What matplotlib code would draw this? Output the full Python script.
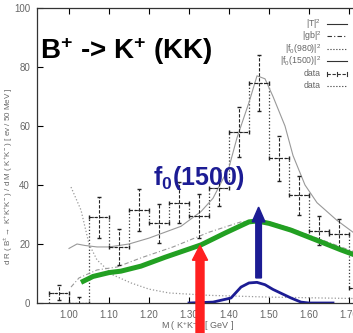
import numpy as np
from matplotlib import pyplot as plt
from matplotlib.lines import Line2D
from matplotlib.patches import FancyArrow

plt.rcParams['font.family'] = ['Liberation Sans', 'DejaVu Sans']
plt.rcParams['mathtext.fontset'] = 'custom'
plt.rcParams['mathtext.rm'] = 'Liberation Sans'
plt.rcParams['mathtext.bf'] = 'Liberation Sans:bold'
plt.rcParams['mathtext.it'] = 'Liberation Sans:italic'

# data histogram (50 MeV bins)
bin_edges = [0.95, 1.00, 1.05, 1.10, 1.15, 1.20, 1.25, 1.30, 1.35,
             1.40, 1.45, 1.50, 1.55, 1.60, 1.65, 1.70, 1.75]
data_x = [0.975, 1.025, 1.075, 1.125, 1.175, 1.225, 1.275, 1.325,
          1.375, 1.425, 1.475, 1.525, 1.575, 1.625, 1.675, 1.725]
data_y = [3.5, 0, 29, 19, 31.5, 27, 34, 29.5, 39, 58, 74.5, 49, 36.5, 24.5, 23.5, 5]
data_err = [2.5, 2, 7, 6, 7, 6.5, 7, 7.5, 6, 8.5, 9.5, 7.5, 6.5, 5, 5, 3]

# |T|^2
t_x = [1.00, 1.02, 1.04, 1.07, 1.10, 1.15, 1.20, 1.25, 1.28, 1.33, 1.36, 1.40,
       1.42, 1.45, 1.47, 1.49, 1.51, 1.54, 1.56, 1.59, 1.62, 1.67, 1.72]
t_y = [18.5, 20, 19.5, 19, 19, 20, 22, 24.5, 26, 31, 35.5, 46,
       56, 68, 77, 76, 70, 60, 50, 40, 34, 28, 23]

# |gb|^2
gb_x = [1.005, 1.025, 1.07, 1.12, 1.18, 1.26, 1.35, 1.43, 1.46, 1.50, 1.55, 1.63, 1.72]
gb_y = [5.4, 8.5, 11.2, 12.2, 15.3, 19, 24, 27.5, 28, 27.5, 25.5, 21.5, 17]

# |f0(980)|^2
f980_x = [1.005, 1.03, 1.05, 1.07, 1.11, 1.155, 1.20, 1.25, 1.35, 1.50, 1.72]
f980_y = [39.3, 31.5, 20, 14.6, 9.5, 6.8, 4.7, 3.4, 2.6, 2.0, 1.5]

# |f0(1500)|^2
f1500_x = [1.30, 1.36, 1.405, 1.43, 1.45, 1.47, 1.49, 1.51, 1.555, 1.58, 1.60, 1.66]
f1500_y = [0, 0.3, 1.7, 5.4, 6.8, 7.0, 6.2, 4.6, 1.7, 0.3, 0, 0]

# green highlight
green_x = [1.03, 1.06, 1.10, 1.13, 1.18, 1.24, 1.30, 1.33, 1.39, 1.45, 1.47,
           1.50, 1.555, 1.63, 1.68, 1.72]
green_y = [7, 9, 10.3, 10.8, 12.5, 15.5, 18.3, 19.7, 23.7, 27.5, 27.8,
           27, 24.7, 20.7, 18, 16]

xticks = [1.00, 1.10, 1.20, 1.30, 1.40, 1.50, 1.60, 1.70]
yticks = [0, 20, 40, 60, 80, 100]

legend_labels = [r'|T|$^2$', r'|gb|$^2$', r'|f$_0$(980)|$^2$', r'|f$_0$(1500)|$^2$', 'data', 'data']
legend_styles = ['-', (0, (4, 2, 1, 2)), ':', '-', (0, (3, 1.5)), ':']

W, H = 353, 333
fig = plt.figure(figsize=(W / 100, H / 100), dpi=100)
ax = fig.add_axes([37 / W, 30 / H, 332 / W, 295 / H])
gray = '#666666'

ax.plot(t_x, t_y, color='#999999', lw=0.8)
ax.plot(gb_x, gb_y, color='#999999', lw=0.8, ls=(0, (4, 2, 1, 2)))
ax.plot(f980_x, f980_y, color='#999999', lw=0.9, ls=':')
ax.plot(f1500_x, f1500_y, color='#999999', lw=0.8)
ax.stairs(data_y, bin_edges, baseline=0, color='#333333', lw=0.9, ls=':')
eb = ax.errorbar(data_x, data_y, yerr=data_err, xerr=0.025, fmt='none',
                 ecolor='#222222', elinewidth=0.8, capsize=1.5)
for col in eb[2]:
    col.set_linestyle((0, (3, 1.5)))

ax.plot(green_x, green_y, color='#22a022', lw=3.6, solid_capstyle='butt')
ax.plot(f1500_x, f1500_y, color='#1c1c94', lw=2.0)

# arrows
ax.add_patch(FancyArrow(1.3275, -11, 0, 30.5, width=0.02, head_width=0.038,
                        head_length=5.0, length_includes_head=True,
                        color='#ff2020', clip_on=False, zorder=5))
ax.add_patch(FancyArrow(1.474, 8.5, 0, 24, width=0.014, head_width=0.032,
                        head_length=5.0, length_includes_head=True,
                        color='#1c1c94', zorder=5))

ax.set_xlim(0.92, 1.75)
ax.set_ylim(0, 100)
ax.set_xticks(xticks)
ax.set_xticklabels(['%.2f' % v for v in xticks])
ax.set_yticks(yticks)
ax.tick_params(direction='in', top=True, right=True, length=4, width=0.8,
               labelsize=7, labelcolor=gray, pad=5)
for s in ax.spines.values():
    s.set_color('#333333')
    s.set_linewidth(0.9)

ax.set_xlabel(r'M ( K$^{+}$K$^{-}$ ) [ GeV ]', fontsize=6.5, color=gray)
ax.xaxis.set_label_coords((197 - 37) / 332, -0.055)
ax.set_ylabel(r'd R ( B$^{\pm}$$\rightarrow$ K$^{+}$K$^{+}$K$^{-}$ ) / d M ( K$^{+}$K$^{-}$ ) [ ev / 50 MeV ]',
              fontsize=5.8, color=gray, va='center')
ax.yaxis.set_label_coords(-(37 - 9) / 332, (303 - 176) / 295)

# legend, gnuplot style: label right-aligned, sample on the right
for i, (lab, ls) in enumerate(zip(legend_labels, legend_styles)):
    yf = 1 - (24 + 12.4 * i) / H
    fig.text(321 / W, yf, lab, ha='right', va='center', fontsize=6.3, color=gray)
    fig.add_artist(Line2D([327 / W, 347 / W], [yf, yf], color='#333333', lw=0.8, ls=ls))
    if i == 4:
        for xp in (327, 337, 347):
            fig.add_artist(Line2D([xp / W, xp / W], [yf - 2 / H, yf + 2 / H],
                                  color='#333333', lw=0.8))

fig.text(40 / W, 1 - 51 / H, r'B$^{\mathbf{+}}$ -> K$^{\mathbf{+}}$ (KK)',
         fontsize=20, fontweight='bold', color='black', va='center', ha='left')
fig.text(153 / W, 1 - 178 / H, r'$\mathbf{f_0(1500)}$', fontsize=18,
         color='#1c1c94', va='center', ha='left')

fig.savefig('out.png', dpi=100)
